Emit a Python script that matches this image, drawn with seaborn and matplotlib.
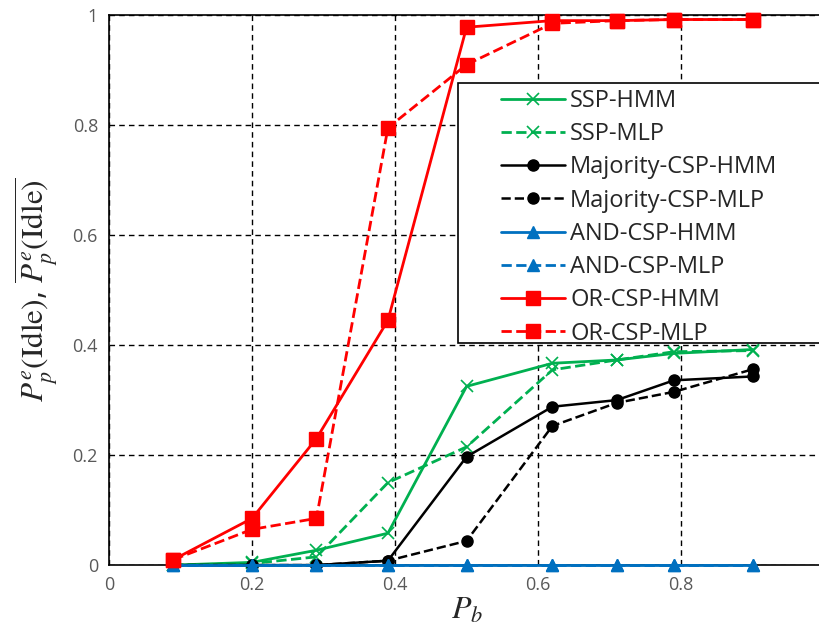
import matplotlib
matplotlib.use("Agg")
import matplotlib.pyplot as plt
from matplotlib.patches import Rectangle
import seaborn as sns
import pandas as pd

# Blocking probability values
pb = [0.09, 0.20, 0.29, 0.39, 0.50, 0.62, 0.71, 0.79, 0.90]

ssp_hmm = [0.0, 0.005, 0.027, 0.058, 0.325, 0.367, 0.373, 0.385, 0.392]
ssp_mlp = [0.0, 0.003, 0.015, 0.150, 0.215, 0.355, 0.373, 0.388, 0.390]
maj_hmm = [0.0, 0.0, 0.0, 0.008, 0.197, 0.288, 0.300, 0.336, 0.343]
maj_mlp = [0.0, 0.0, 0.0, 0.008, 0.044, 0.253, 0.295, 0.315, 0.356]
and_hmm = [0.0, 0.0, 0.0, 0.0, 0.0, 0.0, 0.0, 0.0, 0.0]
and_mlp = [0.0, 0.0, 0.0, 0.0, 0.0, 0.0, 0.0, 0.0, 0.0]
or_hmm = [0.010, 0.085, 0.230, 0.445, 0.978, 0.990, 0.990, 0.992, 0.992]
or_mlp = [0.010, 0.065, 0.085, 0.795, 0.910, 0.985, 0.990, 0.992, 0.992]

labels = ["SSP-HMM", "SSP-MLP", "Majority-CSP-HMM", "Majority-CSP-MLP",
          "AND-CSP-HMM", "AND-CSP-MLP", "OR-CSP-HMM", "OR-CSP-MLP"]
series = [ssp_hmm, ssp_mlp, maj_hmm, maj_mlp, and_hmm, and_mlp, or_hmm, or_mlp]

ticks = [0, 0.2, 0.4, 0.6, 0.8, 1]
tick_labels = ["0", "0.2", "0.4", "0.6", "0.8", "1"]

GREEN, BLACK, BLUE, RED = "#00B050", "#000000", "#0070C0", "#FF0000"
styles = {
    "SSP-HMM": dict(color=GREEN, ls="-", marker="x", ms=9, mew=1.2, lw=2.0),
    "SSP-MLP": dict(color=GREEN, ls="--", marker="x", ms=9, mew=1.2, lw=2.0),
    "Majority-CSP-HMM": dict(color=BLACK, ls="-", marker="o", ms=8, mew=1, lw=1.8),
    "Majority-CSP-MLP": dict(color=BLACK, ls="--", marker="o", ms=8, mew=1, lw=1.8),
    "AND-CSP-HMM": dict(color=BLUE, ls="-", marker="^", ms=8, mew=1, lw=2.0),
    "AND-CSP-MLP": dict(color=BLUE, ls="--", marker="^", ms=8, mew=1, lw=2.0),
    "OR-CSP-HMM": dict(color=RED, ls="-", marker="s", ms=10, mew=1, lw=2.0),
    "OR-CSP-MLP": dict(color=RED, ls="--", marker="s", ms=10, mew=1, lw=2.0),
}

df = pd.concat(
    [pd.DataFrame({"Pb": pb, "value": vals, "method": name})
     for name, vals in zip(labels, series)],
    ignore_index=True,
)

sns.set_style("white")
plt.rcParams["font.family"] = ["Open Sans", "DejaVu Sans"]
plt.rcParams["mathtext.fontset"] = "stix"

fig = plt.figure(figsize=(8.2, 6.3), dpi=100)
ax = fig.add_axes([0.133, 0.103, 0.872, 0.873])

for name in labels:
    st = styles[name]
    sns.lineplot(data=df[df["method"] == name], x="Pb", y="value", ax=ax,
                 color=st["color"], linestyle=st["ls"], marker=st["marker"],
                 markersize=st["ms"], markeredgewidth=st["mew"],
                 markeredgecolor=st["color"], linewidth=st["lw"],
                 label=name, legend=False, clip_on=False, zorder=3)

ax.set_xlim(0, 1)
ax.set_ylim(0, 1)
ax.set_xticks(ticks)
ax.set_xticklabels(tick_labels)
ax.set_yticks(ticks)
ax.set_yticklabels(tick_labels)
ax.tick_params(axis="both", length=0, labelsize=13, colors="#595959", pad=8)

ax.grid(True, color="black", linestyle=(0, (4, 3)), linewidth=1.0)
ax.set_axisbelow(True)
for side in ["left", "bottom", "top", "right"]:
    ax.spines[side].set_color("black")
    ax.spines[side].set_linewidth(1.2)

ax.set_xlabel(r"$P_b$", fontsize=23, color="#262626", labelpad=0)
ax.set_ylabel(r"$P_p^e(\mathrm{Idle})$, $\overline{P_p^e(\mathrm{Idle})}$",
              fontsize=22.5, color="#262626", labelpad=8)

# Legend box drawn as a plain white rectangle with a black border
ax.add_patch(Rectangle((0.488, 0.404), 0.6, 0.472, transform=ax.transAxes,
                       facecolor="white", edgecolor="black", linewidth=1.2,
                       clip_on=False, zorder=5))
handles, hlabels = ax.get_legend_handles_labels()
leg = ax.legend(handles, hlabels, loc="upper left",
                bbox_to_anchor=(0.531, 0.887), frameon=False, borderpad=0,
                fontsize=17, handlelength=2.75, handletextpad=0.2,
                labelspacing=0.39)
leg.set_zorder(6)
for t in leg.get_texts():
    t.set_color("#262626")

fig.savefig("out.png", dpi=100)
